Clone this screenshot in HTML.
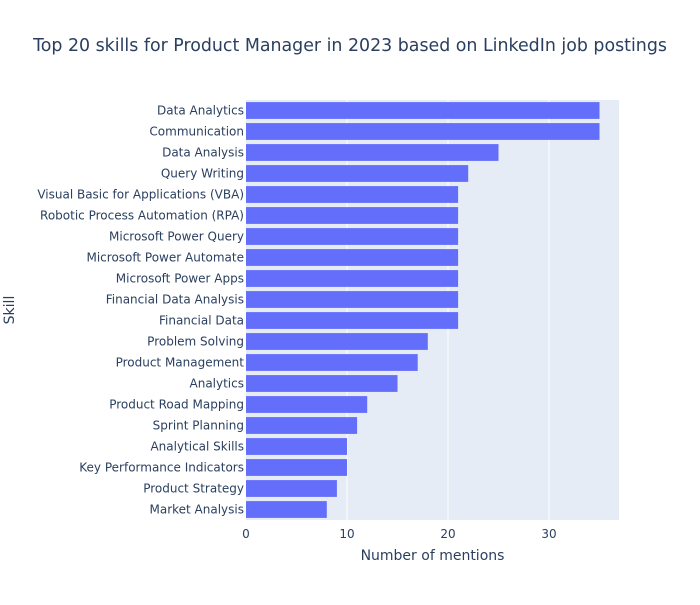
<!DOCTYPE html>
<html><head><meta charset="utf-8"><style>
body{margin:0;background:#fff;}
svg text{font-family:"DejaVu Sans","Liberation Sans",sans-serif;fill:#2a3f5f;}
</style></head><body>
<svg id="chart" width="700" height="600" xmlns="http://www.w3.org/2000/svg">
<rect width="700" height="600" fill="#fff"/>
<text x="350" y="51" font-size="17.4" text-anchor="middle">Top 20 skills for Product Manager in 2023 based on LinkedIn job postings</text>
<rect x="246" y="100" width="373" height="420" fill="#e5ecf6"/>
<g id="grid"></g><g id="bars"></g><g id="yticks"></g><g id="xticks"></g>
<text x="432.5" y="560" font-size="14" text-anchor="middle">Number of mentions</text>
<text x="14" y="310" font-size="14" text-anchor="middle" transform="rotate(-90 14 310)">Skill</text>
</svg>
<script>
const categories=["Data Analytics","Communication","Data Analysis","Query Writing","Visual Basic for Applications (VBA)","Robotic Process Automation (RPA)","Microsoft Power Query","Microsoft Power Automate","Microsoft Power Apps","Financial Data Analysis","Financial Data","Problem Solving","Product Management","Analytics","Product Road Mapping","Sprint Planning","Analytical Skills","Key Performance Indicators","Product Strategy","Market Analysis"];
const values=[35,35,25,22,21,21,21,21,21,21,21,18,17,15,12,11,10,10,9,8];
const xTicks=[0,10,20,30];
const NS="http://www.w3.org/2000/svg";
const X0=246,W=373,Y0=100,H=420,XMAX=36.93;
const x=v=>X0+v/XMAX*W;
const band=H/categories.length;
const y=i=>Y0+i*band;
function mk(t,a,p){const e=document.createElementNS(NS,t);for(const k in a)e.setAttribute(k,a[k]);document.getElementById(p).appendChild(e);return e;}
xTicks.forEach(t=>{
  if(t>0){const g=mk('line',{x1:x(t),x2:x(t),y1:Y0,y2:Y0+H,stroke:'#fff','stroke-width':1},'grid');
  
  }
  const l=mk('text',{x:x(t),y:Y0+H+18,'font-size':12,'text-anchor':'middle'},'xticks');
  l.textContent=t;
  
  
});
categories.forEach((c,i)=>{
  const r=mk('rect',{x:x(0),y:y(i)+band*0.1,width:x(values[i])-x(0),height:band*0.8,fill:'#636efa'},'bars');
  
  
  const l=mk('text',{x:X0-2,y:y(i)+band/2+4,'font-size':12,'text-anchor':'end'},'yticks');
  l.textContent=c;
  
  
});
</script>
</body></html>
